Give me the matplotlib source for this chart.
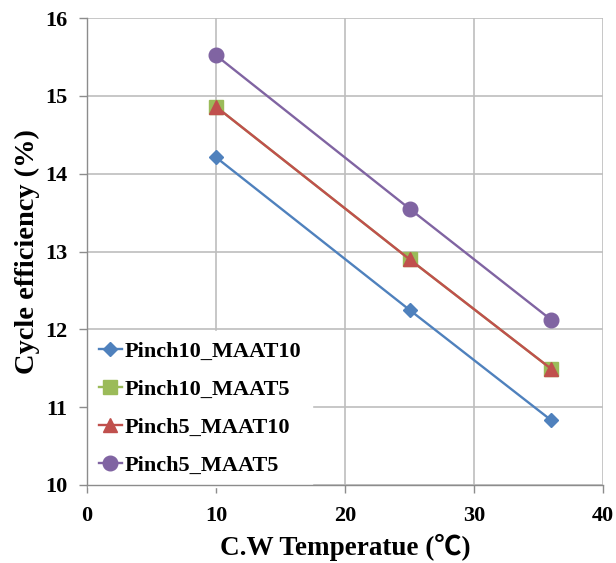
import matplotlib
matplotlib.use("Agg")
import matplotlib.pyplot as plt

temps = [10, 25, 36]
series_names = ["Pinch10_MAAT10", "Pinch10_MAAT5", "Pinch5_MAAT10", "Pinch5_MAAT5"]
p10_m10 = [14.21, 12.25, 10.83]
p10_m5 = [14.86, 12.90, 11.49]
p5_m10 = [14.86, 12.90, 11.49]
p5_m5 = [15.52, 13.55, 12.12]
x_ticks = [0, 10, 20, 30, 40]
y_ticks = [10, 11, 12, 13, 14, 15, 16]

colors = ["#4F81BD", "#9BBB59", "#C0504D", "#8064A2"]
markers = ["D", "s", "^", "o"]
msizes = [7.5, 10, 10.5, 10.5]

serif = ["Liberation Serif", "Noto Sans CJK SC", "DejaVu Sans"]

fig = plt.figure(figsize=(6.16, 5.63), dpi=100)
ax = fig.add_axes([87/616, 1-485/563, (603-87)/616, (485-18)/563])

for vals, name, c, m, ms in zip([p10_m10, p10_m5, p5_m10, p5_m5], series_names, colors, markers, msizes):
    ax.plot(temps, vals, color=c, marker=m, markersize=ms, linewidth=1.7,
            markeredgecolor=c, label=name, zorder=3, clip_on=False)

ax.set_xlim(0, 40)
ax.set_ylim(10, 16)
ax.set_xticks(x_ticks)
ax.set_yticks(y_ticks)
ax.grid(True, color="#BEBEBE", linewidth=1.2)
ax.set_axisbelow(True)
for s in ["top", "right"]:
    ax.spines[s].set_visible(False)
for s in ["left", "bottom"]:
    ax.spines[s].set_color("#8C8C8C")
    ax.spines[s].set_linewidth(1.0)
    ax.spines[s].set_zorder(6)
ax.tick_params(axis="y", direction="out", length=6, color="#8C8C8C", width=1.0, pad=8)
ax.tick_params(axis="x", direction="out", length=6, color="#8C8C8C", width=1.0, pad=9)
for lab in ax.get_xticklabels() + ax.get_yticklabels():
    lab.set_fontfamily(serif)
    lab.set_fontweight("bold")
    lab.set_fontsize(16)

ax.set_xlabel("C.W Temperatue (\u2103)", family=serif, fontweight="bold", fontsize=19.5, labelpad=6)
ax.set_ylabel("Cycle efficiency (%)", family=serif, fontweight="bold", fontsize=20.5, labelpad=4)

leg = ax.legend(loc="upper left", bbox_to_anchor=(88/616, 1-331/563),
                bbox_transform=fig.transFigure, borderaxespad=0,
                prop={"family": serif, "weight": "bold", "size": 16},
                frameon=True, fancybox=False, handlelength=1.05, handletextpad=0.1,
                labelspacing=0.78, borderpad=0.48)
leg.get_frame().set_facecolor("white")
leg.get_frame().set_edgecolor("white")
leg.get_frame().set_alpha(1)
leg.set_zorder(5)

fig.savefig("out.png", dpi=100)
